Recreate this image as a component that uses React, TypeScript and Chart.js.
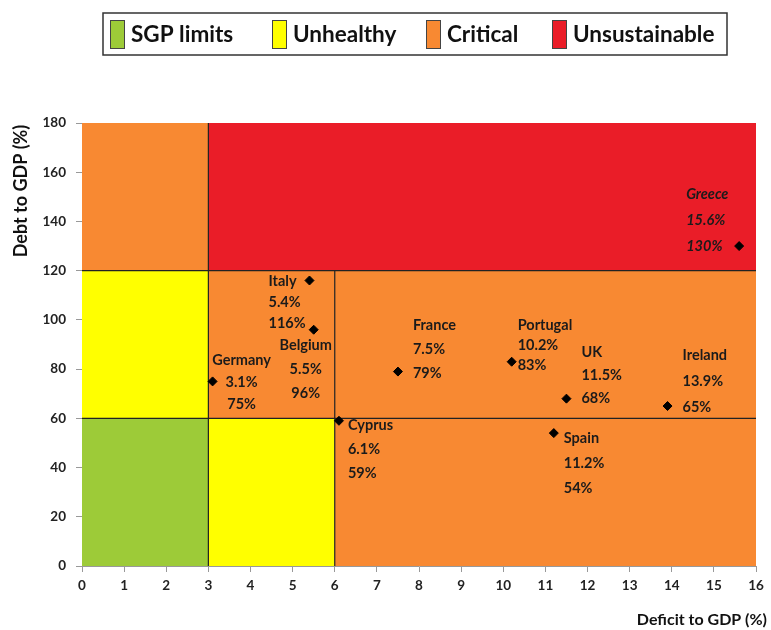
import React, { useEffect, useRef } from "react";
import { Chart, registerables } from "chart.js";

Chart.register(...registerables);

// ---- data ----
const countries = ["Greece", "Italy", "Belgium", "Germany", "France", "Portugal", "UK", "Ireland", "Spain", "Cyprus"];
const deficit = [15.6, 5.4, 5.5, 3.1, 7.5, 10.2, 11.5, 13.9, 11.2, 6.1];
const debt = [130, 116, 96, 75, 79, 83, 68, 65, 54, 59];

const legendNames = ["SGP limits", "Unhealthy", "Critical", "Unsustainable"];
const zoneColors = ["#9DCB38", "#FFFF00", "#F88932", "#EA1D28"];

// zones: [x0, x1, y0, y1, zone index]
const zoneX0 = [0, 0, 0, 3, 3, 3, 6];
const zoneX1 = [3, 3, 3, 6, 6, 16, 16];
const zoneY0 = [0, 60, 120, 0, 60, 120, 0];
const zoneY1 = [60, 120, 180, 60, 120, 180, 120];
const zoneKind = [0, 1, 2, 1, 2, 3, 2];

// threshold lines [x0, y0, x1, y1]
const lineX0 = [3, 6, 0, 0];
const lineY0 = [0, 0, 60, 120];
const lineX1 = [3, 6, 16, 16];
const lineY1 = [180, 120, 60, 120];

const xTitle = "Deficit to GDP (%)";
const yTitle = "Debt to GDP (%)";

// label placement (style): left/center anchor offset, first-line offset, line gap
const labelAlign = ["left", "left", "center", "center", "left", "left", "left", "left", "left", "left"];
const labelDx = [-53, -41, -8, 29, 15, 6, 15, 15, 10, 9];
const labelDy = [-52, 1, 16, -21, -46, -36, -46, -51, 5, 5];
const labelGap = [26, 21, 24, 22, 24, 20, 23, 26, 25, 24];

const FONT = "Lato, 'Open Sans', sans-serif";

const zonesPlugin = {
  id: "zones",
  beforeDatasetsDraw(chart: any) {
    const { ctx, scales } = chart;
    const xs = scales.x, ys = scales.y;
    ctx.save();
    for (let i = 0; i < zoneX0.length; i++) {
      const l = xs.getPixelForValue(zoneX0[i]);
      const r = xs.getPixelForValue(zoneX1[i]);
      const t = ys.getPixelForValue(zoneY1[i]);
      const b = ys.getPixelForValue(zoneY0[i]);
      ctx.fillStyle = zoneColors[zoneKind[i]];
      ctx.fillRect(l, t, r - l, b - t);
    }
    ctx.strokeStyle = "#222";
    ctx.lineWidth = 1.2;
    for (let i = 0; i < lineX0.length; i++) {
      ctx.beginPath();
      ctx.moveTo(xs.getPixelForValue(lineX0[i]), ys.getPixelForValue(lineY0[i]));
      ctx.lineTo(xs.getPixelForValue(lineX1[i]), ys.getPixelForValue(lineY1[i]));
      ctx.stroke();
    }
    ctx.restore();
  },
};

const labelsPlugin = {
  id: "pointLabels",
  afterDatasetsDraw(chart: any) {
    const { ctx } = chart;
    const meta = chart.getDatasetMeta(0);
    ctx.save();
    ctx.fillStyle = "#1b1b1b";
    ctx.textBaseline = "middle";
    meta.data.forEach((pt: any, i: number) => {
      const italic = countries[i] === "Greece" ? "italic " : "";
      ctx.font = `${italic}bold 14.5px ${FONT}`;
      ctx.textAlign = labelAlign[i];
      const lines = [countries[i], deficit[i].toFixed(1) + "%", debt[i] + "%"];
      lines.forEach((s, k) => {
        ctx.fillText(s, pt.x + labelDx[i], pt.y + labelDy[i] + k * labelGap[i]);
      });
    });
    ctx.restore();
  },
};

const decorPlugin = {
  id: "decor",
  afterDraw(chart: any) {
    const { ctx } = chart;
    ctx.save();
    // legend box
    const bx = 103, by = 13, bw = 624, bh = 42;
    ctx.fillStyle = "#ffffff";
    ctx.fillRect(bx, by, bw, bh);
    ctx.strokeStyle = "#333";
    ctx.lineWidth = 1.5;
    ctx.strokeRect(bx, by, bw, bh);
    const swX = [110, 272, 426, 552];
    ctx.font = `bold 22.5px ${FONT}`;
    ctx.textBaseline = "middle";
    ctx.textAlign = "left";
    legendNames.forEach((n, i) => {
      ctx.fillStyle = zoneColors[i];
      ctx.fillRect(swX[i], 20, 14, 28);
      ctx.strokeStyle = "#444";
      ctx.lineWidth = 1;
      ctx.strokeRect(swX[i] + 0.5, 20.5, 14, 28);
      ctx.fillStyle = "#111";
      ctx.fillText(n, swX[i] + 21, 35);
    });
    // axis titles
    ctx.fillStyle = "#111";
    ctx.font = `bold 16px ${FONT}`;
    ctx.textAlign = "right";
    ctx.fillText(xTitle, 767, 620);
    ctx.font = `bold 18px ${FONT}`;
    ctx.translate(21, 191);
    ctx.rotate(-Math.PI / 2);
    ctx.textAlign = "center";
    ctx.fillText(yTitle, 0, 0);
    ctx.restore();
  },
};

export default function App() {
  const ref = useRef<HTMLCanvasElement>(null);
  useEffect(() => {
    document.body.style.margin = "0";
    const chart = new Chart(ref.current!, {
      type: "scatter",
      data: {
        datasets: [
          {
            label: "Countries",
            data: deficit.map((x, i) => ({ x, y: debt[i] })),
            pointStyle: "rectRot",
            pointRadius: 4.5,
            backgroundColor: "#000",
            borderColor: "#000",
          },
        ],
      },
      options: {
        animation: false,
        responsive: false,
        layout: { padding: { left: 0, top: 123, right: 15, bottom: 0 } },
        plugins: { legend: { display: false }, tooltip: { enabled: false } },
        scales: {
          x: {
            type: "linear",
            min: 0,
            max: 16,
            afterFit: (s: any) => { s.height = 64; },
            ticks: { stepSize: 1, color: "#222", font: { family: FONT, weight: "bold", size: 13.5 }, padding: 6 },
            grid: { drawOnChartArea: false, tickLength: 6, color: "#999" },
            border: { color: "#999" },
          },
          y: {
            type: "linear",
            min: 0,
            max: 180,
            afterFit: (s: any) => { s.width = 82; },
            ticks: { stepSize: 20, color: "#222", font: { family: FONT, weight: "bold", size: 13.5 }, padding: 10 },
            grid: { drawOnChartArea: false, tickLength: 6, color: "#999" },
            border: { color: "#999" },
          },
        },
      },
      plugins: [zonesPlugin, labelsPlugin, decorPlugin],
    } as any);
    return () => chart.destroy();
  }, []);
  return <canvas ref={ref} width={771} height={630} style={{ display: "block" }} />;
}
